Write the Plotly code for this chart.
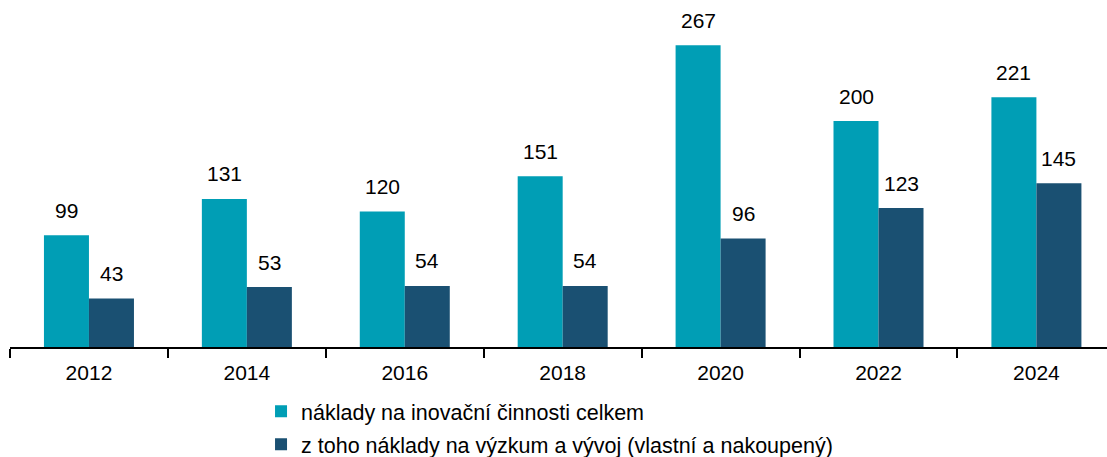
import plotly.graph_objects as go

years = ["2012", "2014", "2016", "2018", "2020", "2022", "2024"]
total = [99, 131, 120, 151, 267, 200, 221]
rnd = [43, 53, 54, 54, 96, 123, 145]
names = ["náklady na inovační činnosti celkem",
         "z toho náklady na výzkum a vývoj (vlastní a nakoupený)"]
colors = ["#009EB5", "#1A5072"]

fig = go.Figure()
for i, (vals, nm, col) in enumerate(zip([total, rnd], names, colors)):
    fig.add_trace(go.Bar(x=years, y=vals, name=nm, marker_color=col,
                         marker_line_width=0, legendgroup=f"g{i}"))
    for j, v in enumerate(vals):
        fig.add_annotation(x=j, y=v, text=str(v), showarrow=False,
                           xshift=(-22.5 if i == 0 else 22.5), yshift=25,
                           font=dict(size=21, color="#000000"))

fig.update_layout(
    width=1107, height=457,
    margin=dict(l=10, r=0, t=8, b=110, autoexpand=False),
    paper_bgcolor="white", plot_bgcolor="white",
    font=dict(family="Liberation Sans, Arial, sans-serif", size=21, color="#000000"),
    barmode="group", bargap=0.43, bargroupgap=0,
    showlegend=True,
    legend=dict(orientation="v", xref="container", yref="container",
                x=0.2358, xanchor="left", y=0.145, yanchor="top",
                tracegroupgap=2, font=dict(size=21.5), itemwidth=30,
                bgcolor="rgba(0,0,0,0)"),
    xaxis=dict(type="category", range=[-0.5, 6.447], showline=True, linecolor="#000000",
               linewidth=1.5, ticks="outside", tickson="boundaries", ticklen=9,
               tickcolor="#000000", tickwidth=1.5, showgrid=False, automargin=False,
               tickfont=dict(size=21), tickangle=0, ticklabelstandoff=6),
    yaxis=dict(range=[0, 300], visible=False, showgrid=False),
)

fig.write_html("out.html", config={"displayModeBar": False},
               post_script="document.body.style.margin='0';document.body.style.overflow='hidden';")
